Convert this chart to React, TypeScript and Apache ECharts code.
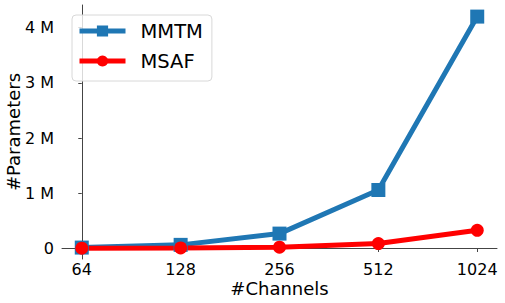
import React, { useEffect, useRef } from "react";
import * as echarts from "echarts";

const channels = ["64", "128", "256", "512", "1024"];
const mmtm = [0.017e6, 0.066e6, 0.27e6, 1.06e6, 4.2e6];
const msaf = [0.005e6, 0.01e6, 0.025e6, 0.09e6, 0.33e6];
const yTicks = [0, 1e6, 2e6, 3e6, 4e6];
const xTicks = [0, 1, 2, 3, 4];

const FONT = "DejaVu Sans";

export default function App() {
  const ref = useRef<HTMLDivElement>(null);
  useEffect(() => {
    if (!ref.current) return;
    const chart = echarts.init(ref.current, null, { renderer: "svg" });
    const axisLineColor = "#444";
    chart.setOption({
      animation: false,
      backgroundColor: "#fff",
      textStyle: { fontFamily: FONT },
      grid: {
        left: 62,
        right: 8,
        top: 5,
        bottom: 44,
        containLabel: false,
        outerBoundsMode: "none",
      },
      legend: {
        orient: "vertical",
        left: 72,
        top: 15,
        itemWidth: 46,
        itemHeight: 14,
        itemGap: 10,
        padding: [6, 9, 10, 5],
        borderColor: "#d8d8d8",
        borderWidth: 1,
        borderRadius: 4,
        backgroundColor: "rgba(255,255,255,0.8)",
        lineStyle: { width: 5 },
        textStyle: {
          fontFamily: FONT,
          fontSize: 19.5,
          color: "#000",
          padding: [0, 0, 0, 10],
        },
        data: ["MMTM", "MSAF"],
      },
      xAxis: {
        type: "value",
        min: -0.2,
        max: 4.2,
        name: "#Channels",
        nameLocation: "middle",
        nameGap: 20,
        nameMoveOverlap: false,
        nameTextStyle: { fontFamily: FONT, fontSize: 18, color: "#000" },
        splitLine: { show: false },
        axisLine: { show: true, lineStyle: { color: axisLineColor, width: 1 } },
        axisTick: {
          show: true,
          length: 3.5,
          customValues: xTicks,
          lineStyle: { color: axisLineColor, width: 1 },
        },
        axisLabel: {
          customValues: xTicks,
          fontFamily: FONT,
          fontSize: 16,
          color: "#000",
          margin: 2,
          formatter: (v: number) => channels[Math.round(v)] ?? "",
        },
      },
      yAxis: {
        type: "value",
        min: -190000,
        max: 4410000,
        name: "#Parameters",
        nameLocation: "middle",
        nameGap: 40,
        nameMoveOverlap: false,
        nameTextStyle: { fontFamily: FONT, fontSize: 18, color: "#000" },
        splitLine: { show: false },
        axisLine: { show: true, lineStyle: { color: axisLineColor, width: 1 } },
        axisTick: {
          show: true,
          length: 3.5,
          customValues: yTicks,
          lineStyle: { color: axisLineColor, width: 1 },
        },
        axisLabel: {
          customValues: yTicks,
          fontFamily: FONT,
          fontSize: 16,
          color: "#000",
          margin: 8,
          formatter: (v: number) => (v === 0 ? "0" : `${Math.round(v / 1e6)} M`),
        },
      },
      series: [
        {
          name: "MMTM",
          type: "line",
          data: mmtm.map((v, i) => [i, v]),
          symbol: "rect",
          symbolSize: 14,
          lineStyle: { color: "#1f77b4", width: 5 },
          itemStyle: { color: "#1f77b4" },
        },
        {
          name: "MSAF",
          type: "line",
          data: msaf.map((v, i) => [i, v]),
          symbol: "circle",
          symbolSize: 13,
          lineStyle: { color: "#ff0000", width: 5 },
          itemStyle: { color: "#ff0000" },
        },
      ],
    });
    return () => chart.dispose();
  }, []);
  return (
    <div
      ref={ref}
      style={{ position: "fixed", left: 0, top: 0, width: 505, height: 303 }}
    />
  );
}
